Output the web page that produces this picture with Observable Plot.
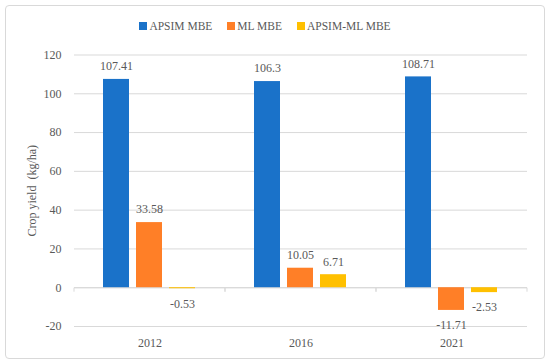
<!DOCTYPE html>
<html>
<head>
<meta charset="utf-8">
<script src="https://cdn.jsdelivr.net/npm/d3@7"></script>
<script src="https://cdn.jsdelivr.net/npm/@observablehq/plot@0.6"></script>
<style>
html, body { margin: 0; padding: 0; background: #fff; }
#box { position: absolute; left: 5px; top: 5px; border: 1px solid #d9d9d9; border-radius: 4px; box-sizing: border-box; width: 540px; height: 354px; }
#legend { position: absolute; left: 5px; top: 16px; width: 520px; height: 20px; display: flex; justify-content: center; align-items: center; font-family: "Liberation Serif", serif; font-size: 11.5px; color: #595959; }
#legend * { font-family: "Liberation Serif", serif !important; font-size: 11.5px !important; color: #595959 !important; }
#legend > div { margin: 0 !important; min-height: 0 !important; }
#chart { position: absolute; left: 5px; top: 40px; }
.lg-swatch { margin-right: 15px !important; }
.lg-swatch:last-child { margin-right: 0 !important; }
.lg-swatch > svg { margin-right: 2px !important; }
</style>
</head>
<body>
<div id="box"></div>
<div id="legend"></div>
<div id="chart"></div>
<script>
const years = ["2012", "2016", "2021"];
const seriesNames = ["APSIM MBE", "ML MBE", "APSIM-ML MBE"];
const apsimMBE = [107.41, 106.3, 108.71];
const mlMBE = [33.58, 10.05, -11.71];
const apsimMlMBE = [-0.53, 6.71, -2.53];
const yTicks = [-20, 0, 20, 40, 60, 80, 100, 120];
const colors = ["#1a72c9", "#ff7f27", "#ffc000"];

const seriesValues = [apsimMBE, mlMBE, apsimMlMBE];
const data = [];
years.forEach((year, i) => {
  seriesNames.forEach((s, j) => {
    data.push({ year, series: s, value: seriesValues[j][i] });
  });
});

const fontFamily = '"Liberation Serif", serif';
const textColor = "#595959";
const gridColor = "#d9d9d9";

const chart = Plot.plot({
  width: 540,
  height: 315,
  marginLeft: 68,
  marginRight: 17,
  marginTop: 14.5,
  marginBottom: 29,
  style: { fontFamily, fontSize: "12px", color: textColor, background: "transparent" },
  fx: { domain: years, padding: 0, axis: null, label: null },
  x: { domain: seriesNames, paddingInner: 0.2, paddingOuter: 0.87, axis: null },
  y: { domain: [-20, 120], ticks: yTicks, axis: null },
  color: { domain: seriesNames, range: colors },
  marks: [
    Plot.gridY(yTicks, { stroke: gridColor, strokeOpacity: 1 }),
    Plot.ruleY([0], {
      stroke: gridColor,
      render(index, scales, values, dimensions, context, next) {
        const g = next(index, scales, values, dimensions, context);
        const [x0, x1] = scales.x.range();
        const y0 = scales.y(0);
        for (const xx of [x0, x1]) {
          d3.select(g).append("line")
            .attr("x1", xx).attr("x2", xx)
            .attr("y1", y0).attr("y2", y0 + 4)
            .attr("stroke", gridColor);
        }
        return g;
      }
    }),
    Plot.barY(data, { fx: "year", x: "series", y: "value", fill: "series" }),
    Plot.text(data.filter(d => d.value >= 0), {
      fx: "year", x: "series", y: "value", text: d => String(d.value), dy: -13, fill: textColor
    }),
    Plot.text(data.filter(d => d.value < 0), {
      fx: "year", x: "series", y: "value", text: d => String(d.value), dy: 15, fill: textColor
    }),
    Plot.axisY(yTicks, {
      tickSize: 0, tickPadding: 13, tickFormat: d => String(d),
      label: "Crop yield\u00a0\u00a0(kg/ha)", labelAnchor: "center", labelArrow: "none", labelOffset: 47
    }),
    Plot.axisFx({ anchor: "bottom", tickSize: 0, tickPadding: 12, label: null })
  ]
});
document.getElementById("chart").appendChild(chart);

const legend = Plot.legend({
  color: { domain: seriesNames, range: colors },
  swatchSize: 8,
  className: "lg",
  style: { fontFamily, fontSize: "11.5px", color: textColor }
});
document.getElementById("legend").appendChild(legend);
</script>
</body>
</html>
